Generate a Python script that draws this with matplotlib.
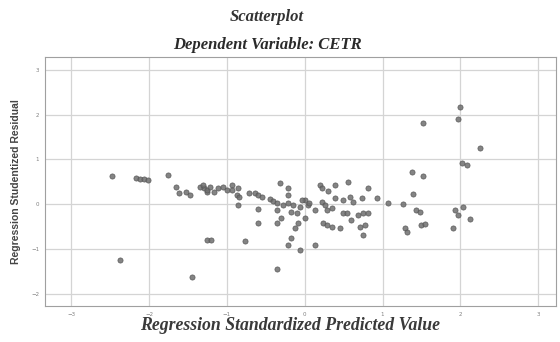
import matplotlib
matplotlib.use('Agg')
import matplotlib.pyplot as plt
import numpy as np

# standardized predicted value (x) and studentized residual (y)
pred = [-2.48, -2.17, -2.12, -2.06, -2.01, -1.76, -1.65, -1.61, -1.52, -1.47,
        -1.35, -1.29, -1.25, -1.25, -2.38, -1.45, -1.31, -1.26, -1.22, -1.16,
        -1.12, -1.05, -1.00, -0.94, -0.93, -0.86, -0.87, -0.84, -0.86, -0.71,
        -0.64, -0.60, -0.55, -0.45, -0.41, -0.35, -0.32, -0.22, -0.21, -0.28,
        -0.22, -0.15, -0.06, 0.00, 0.04, -0.60, -0.36, -0.60, -0.36, -0.30,
        -0.17, -0.10, -0.09, -0.13, -0.17, -0.22, -0.06, -1.20, -0.77, -0.36,
        0.19, 0.22, 0.30, 0.39, 0.55, 0.81, -0.03, 0.06, 0.13, 0.22,
        0.26, 0.28, 0.35, 0.39, 0.49, 0.58, 0.62, 0.73, 0.93, 1.07,
        0.00, 0.23, 0.28, 0.35, 0.45, 0.49, 0.54, 0.60, 0.68, 0.75,
        0.81, 0.71, 0.77, 0.75, 0.13, 1.26, 1.39, 1.38, 1.52, 1.52,
        1.43, 1.48, 1.29, 1.31, 1.50, 1.54, 1.99, 1.97, 2.25, 2.02,
        2.08, 2.03, 1.93, 1.97, 2.12, 1.90]
resid = [0.63, 0.58, 0.56, 0.56, 0.54, 0.65, 0.38, 0.25, 0.27, 0.20,
         0.38, 0.36, 0.27, -0.81, -1.25, -1.63, 0.43, 0.31, 0.38, 0.27,
         0.36, 0.38, 0.31, 0.43, 0.31, 0.36, 0.20, 0.16, -0.02, 0.25,
         0.25, 0.20, 0.16, 0.11, 0.07, 0.02, 0.47, 0.36, 0.20, -0.02,
         0.02, -0.02, -0.07, 0.09, -0.02, -0.11, -0.13, -0.43, -0.43, -0.31,
         -0.18, -0.20, -0.43, -0.54, -0.76, -0.92, -1.03, -0.81, -0.83, -1.45,
         0.43, 0.36, 0.29, 0.43, 0.49, 0.36, 0.09, 0.02, -0.13, 0.04,
         -0.02, -0.13, -0.09, 0.13, 0.09, 0.16, 0.04, 0.13, 0.13, 0.02,
         -0.31, -0.43, -0.47, -0.51, -0.54, -0.20, -0.20, -0.36, -0.25, -0.20,
         -0.20, -0.51, -0.47, -0.69, -0.92, 0.00, 0.22, 0.72, 0.63, 1.81,
         -0.13, -0.18, -0.54, -0.63, -0.47, -0.45, 2.17, 1.90, 1.25, 0.92,
         0.87, -0.07, -0.13, -0.25, -0.34, -0.54]

x_ticks = [-3, -2, -1, 0, 1, 2, 3]
y_ticks = [-2, -1, 0, 1, 2, 3]

serif = ['Liberation Serif', 'DejaVu Serif']

fig = plt.figure(figsize=(5.6, 3.42), dpi=100)
ax = fig.add_axes([0.080, 0.105, 0.913, 0.728])

ax.scatter(pred, resid, s=14, color='#6e6e6e', edgecolors='#505050',
           linewidths=0.5, alpha=0.85, zorder=3)

ax.set_xlim(-3.34, 3.23)
ax.set_ylim(-2.28, 3.29)
ax.set_xticks(x_ticks)
ax.set_yticks(y_ticks)
ax.grid(True, color='#d4d4d4', linewidth=0.9, zorder=0)
ax.set_axisbelow(True)
ax.tick_params(labelsize=4, colors='#808080', length=0, pad=4)
for s in ax.spines.values():
    s.set_color('#a0a0a0')
    s.set_linewidth(0.8)

fig.text(0.477, 0.950, 'Scatterplot', ha='center', va='center',
         family=serif, style='italic', weight='bold', fontsize=12, color='#333333')
fig.text(0.477, 0.868, 'Dependent Variable: CETR', ha='center', va='center',
         family=serif, style='italic', weight='bold', fontsize=12, color='#2a2a2a')
ax.set_xlabel('Regression Standardized Predicted Value', family=serif,
              style='italic', weight='bold', fontsize=12.8, color='#3a3a3a')
ax.xaxis.set_label_coords(0.48, -0.045)
ax.set_ylabel('Regression Studentized Residual', family=['Liberation Sans', 'DejaVu Sans'],
              weight='bold', fontsize=7.5, color='#444444', labelpad=7)

fig.savefig('out.png', dpi=100)
plt.close(fig)
